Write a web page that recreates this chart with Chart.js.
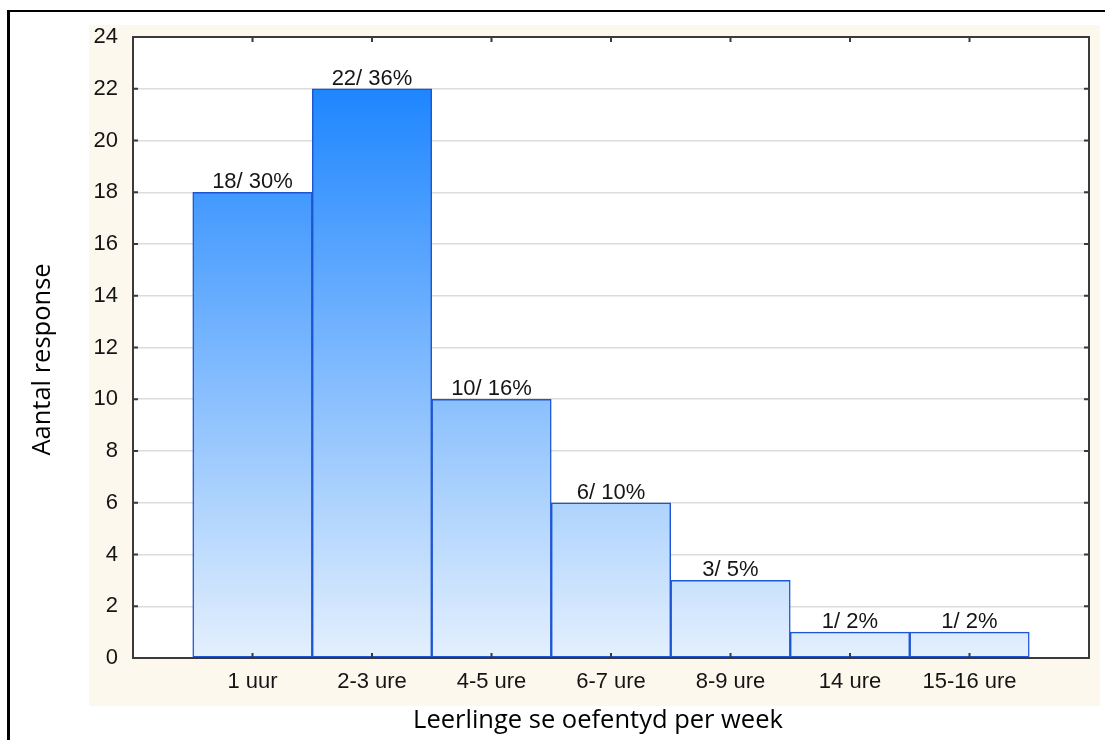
<!DOCTYPE html>
<html>
<head>
<meta charset="utf-8">
<title>Leerlinge se oefentyd per week</title>
<script src="https://cdn.jsdelivr.net/npm/chart.js@4/dist/chart.umd.min.js"></script>
<style>
  html, body { margin: 0; padding: 0; background: #fff; }
  #wrap { position: relative; width: 1105px; height: 740px; overflow: hidden; }
  #frame {
    position: absolute; left: 7px; top: 10px; right: -5px; bottom: -5px;
    border-left: 3px solid #000; border-top: 2px solid #000;
    pointer-events: none;
  }
</style>
</head>
<body>
<div id="wrap">
  <canvas id="chart" width="1105" height="740"></canvas>
  <div id="frame"></div>
</div>
<script>
// =======================
// Data
// =======================

const categories = ["1 uur", "2-3 ure", "4-5 ure", "6-7 ure", "8-9 ure", "14 ure", "15-16 ure"];
const counts = [18, 22, 10, 6, 3, 1, 1];
const percents = [30, 36, 16, 10, 5, 2, 2];

const yMin = 0;
const yMax = 24;
const yStep = 2;

const xTitle = "Leerlinge se oefentyd per week";
const yTitle = "Aantal response";

// empty slot on each side of the bars
const labels = ["", ...categories, ""];
const values = [null, ...counts, null];


// =======================
// Plugins
// =======================

const tickFamily = "'Liberation Sans', Arial, sans-serif";
const tickFont = "22px " + tickFamily;
const titleFont = "25.5px 'Open Sans', 'Noto Sans', sans-serif";

// cream panel behind plot + tick labels
const paperPlugin = {
  id: "paper",
  beforeDraw(chart) {
    const { ctx, chartArea: a } = chart;
    ctx.save();
    ctx.fillStyle = "#fdf8ee";
    ctx.fillRect(a.left - 44, a.top - 12, a.right - a.left + 55, a.bottom - a.top + 60);
    ctx.fillStyle = "#ffffff";
    ctx.fillRect(a.left, a.top, a.right - a.left, a.bottom - a.top);
    ctx.restore();
  }
};

// box round plot with inward ticks on all four sides
const framePlugin = {
  id: "frame",
  afterDatasetsDraw(chart) {
    const { ctx, chartArea: a, scales } = chart;
    const len = 5;
    ctx.save();
    ctx.strokeStyle = "#3a3a3a";
    ctx.lineWidth = 2;
    ctx.strokeRect(a.left, a.top, a.right - a.left, a.bottom - a.top);

    ctx.beginPath();
    for (let v = yMin; v <= yMax; v += yStep) {
      const y = scales.y.getPixelForValue(v);
      ctx.moveTo(a.left, y); ctx.lineTo(a.left + len, y);
      ctx.moveTo(a.right, y); ctx.lineTo(a.right - len, y);
    }
    for (let i = 1; i <= categories.length; i++) {
      const x = scales.x.getPixelForValue(i);
      ctx.moveTo(x, a.top); ctx.lineTo(x, a.top + len);
      ctx.moveTo(x, a.bottom); ctx.lineTo(x, a.bottom - len);
    }
    ctx.stroke();
    ctx.restore();
  }
};

// "n/ p%" over each bar
const barLabelPlugin = {
  id: "barLabels",
  afterDatasetsDraw(chart) {
    const { ctx } = chart;
    const meta = chart.getDatasetMeta(0);
    ctx.save();
    ctx.font = tickFont;
    ctx.fillStyle = "#151515";
    ctx.textAlign = "center";
    ctx.textBaseline = "alphabetic";
    meta.data.forEach((bar, i) => {
      if (values[i] == null) return;
      ctx.fillText(`${values[i]}/ ${percents[i - 1]}%`, bar.x, bar.y - 4);
    });
    ctx.restore();
  }
};

// axis titles
const titlePlugin = {
  id: "axisTitles",
  afterDraw(chart) {
    const { ctx, chartArea: a } = chart;
    const midX = (a.left + a.right) / 2;
    const midY = (a.top + a.bottom) / 2;
    ctx.save();
    ctx.font = titleFont;
    ctx.fillStyle = "#000";
    ctx.textAlign = "center";
    ctx.textBaseline = "alphabetic";
    ctx.fillText(xTitle, midX - 13, a.bottom + 70);

    ctx.translate(a.left - 83, midY + 12);
    ctx.rotate(-Math.PI / 2);
    ctx.fillText(yTitle, 0, 0);
    ctx.restore();
  }
};


// =======================
// Chart
// =======================

function barGradient(context) {
  const chart = context.chart;
  const a = chart.chartArea;
  if (!a) return "#5aa8ff";
  const g = chart.ctx.createLinearGradient(0, a.top, 0, a.bottom);
  g.addColorStop(0, "#0c7cff");
  g.addColorStop(1, "#e4f0fd");
  return g;
}

new Chart(document.getElementById("chart"), {
  type: "bar",
  data: {
    labels: labels,
    datasets: [{
      data: values,
      backgroundColor: barGradient,
      borderColor: "#1d55d4",
      borderWidth: 1.5,
      borderSkipped: false,
      barPercentage: 1,
      categoryPercentage: 1
    }]
  },
  options: {
    responsive: false,
    animation: false,
    layout: { padding: { top: 37, right: 16, left: 0, bottom: 0 } },
    plugins: {
      legend: { display: false },
      tooltip: { enabled: false }
    },
    scales: {
      x: {
        offset: false,
        grid: { display: false, drawTicks: false },
        border: { display: false },
        ticks: {
          padding: 11,
          color: "#151515",
          font: { family: tickFamily, size: 22 },
          maxRotation: 0,
          autoSkip: false
        },
        afterFit(scale) { scale.height = 82; }
      },
      y: {
        min: yMin,
        max: yMax,
        grid: { color: "#dcdcdc", lineWidth: 1.5, drawTicks: false },
        border: { display: false },
        ticks: {
          stepSize: yStep,
          padding: 15,
          color: "#151515",
          font: { family: tickFamily, size: 22 }
        },
        afterFit(scale) { scale.width = 133; }
      }
    }
  },
  plugins: [paperPlugin, framePlugin, barLabelPlugin, titlePlugin]
});
</script>
</body>
</html>
